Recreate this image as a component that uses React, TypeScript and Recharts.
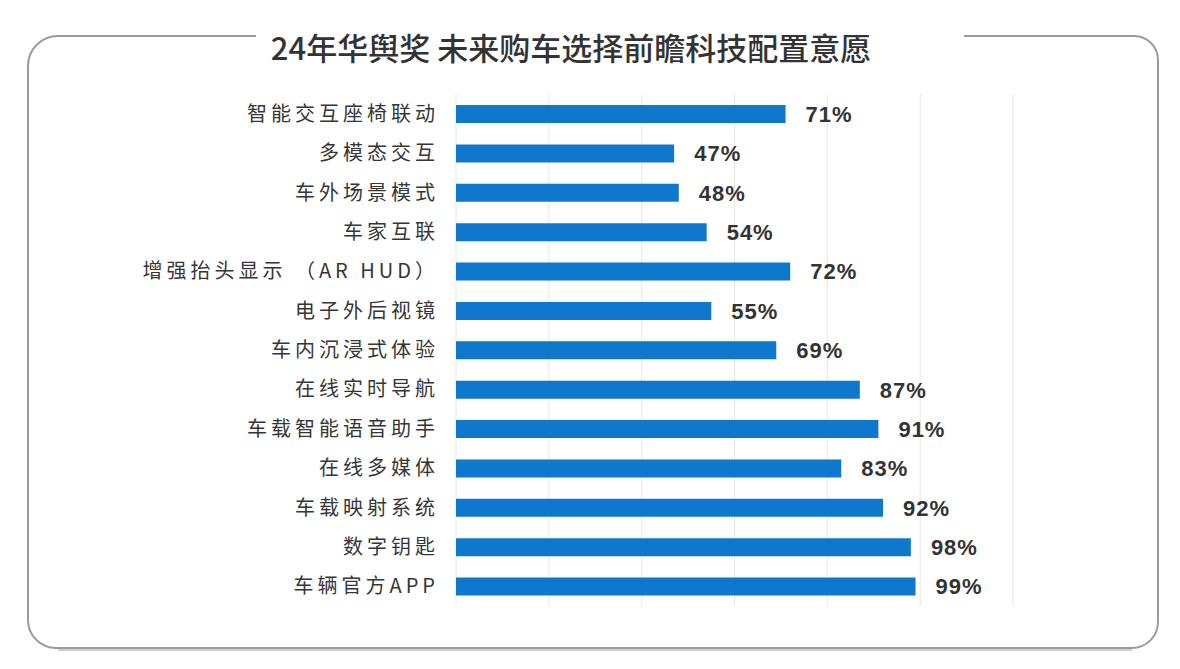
import React from 'react'
import { BarChart, Bar, XAxis, YAxis, CartesianGrid, LabelList } from 'recharts'

const categories = [
  '智能交互座椅联动',
  '多模态交互',
  '车外场景模式',
  '车家互联',
  '增强抬头显示 （AR HUD）',
  '电子外后视镜',
  '车内沉浸式体验',
  '在线实时导航',
  '车载智能语音助手',
  '在线多媒体',
  '车载映射系统',
  '数字钥匙',
  '车辆官方APP',
]

const shares = [71, 47, 48, 54, 72, 55, 69, 87, 91, 83, 92, 98, 99]

const gridTicks = [0, 20, 40, 60, 80, 100, 120]

const title = '24年华舆奖 未来购车选择前瞻科技配置意愿'

const data = categories.map((name, i) => ({ name, value: shares[i] }))

const W = 1180
const H = 669

export default function App() {
  return (
    <div style={{ position: 'relative', width: W, height: H, margin: -8, background: '#fff', overflow: 'hidden' }}>
      {/* frame with a gap for the title */}
      <svg width={W} height={H} style={{ position: 'absolute', left: 0, top: 0 }}>
        <path
          d="M 256 36 L 58 36 A 30 30 0 0 0 28 66 L 28 620 A 28 28 0 0 0 56 648 L 1132 648 A 26 26 0 0 0 1158 622 L 1158 60 A 24 24 0 0 0 1134 36 L 964 36"
          fill="none"
          stroke="#9b9b9b"
          strokeWidth={2}
        />
        <path d="M 58 650 L 1132 650" stroke="#cfcfcf" strokeWidth={2} />
        <text
          x={571}
          y={46}
          textAnchor="middle"
          dominantBaseline="central"
          fontFamily="'Noto Sans CJK SC', sans-serif"
          fontSize={31}
          fontWeight={500}
          fill="#333"
        >
          {title}
        </text>
      </svg>
      <div style={{ position: 'absolute', left: 0, top: 0 }}>
        <BarChart
          width={W}
          height={H}
          data={data}
          layout="vertical"
          margin={{ top: 94, right: 167, bottom: 63, left: 0 }}
          barCategoryGap={0}
        >
          <CartesianGrid horizontal={false} stroke="#e6e6e6" />
          <XAxis
            type="number"
            domain={[0, 120]}
            ticks={gridTicks}
            tick={() => <g />}
            axisLine={false}
            tickLine={false}
            height={0}
          />
          <YAxis
            type="category"
            dataKey="name"
            width={456}
            axisLine={false}
            tickLine={false}
            tickMargin={11}
            interval={0}
            tick={{
              fontSize: 20,
              fill: '#363636',
              fontFamily: "'Noto Sans CJK SC', sans-serif",
              letterSpacing: 4,
            }}
          />
          <Bar dataKey="value" fill="#0f78cc" barSize={18} isAnimationActive={false}>
            <LabelList
              dataKey="value"
              position="right"
              offset={20}
              formatter={(v: number) => `${v}%`}
              style={{
                fontSize: 22,
                fontWeight: 'bold',
                fill: '#333',
                letterSpacing: 1,
                fontFamily: "'Liberation Sans', Arial, sans-serif",
              }}
            />
          </Bar>
        </BarChart>
      </div>
    </div>
  )
}
